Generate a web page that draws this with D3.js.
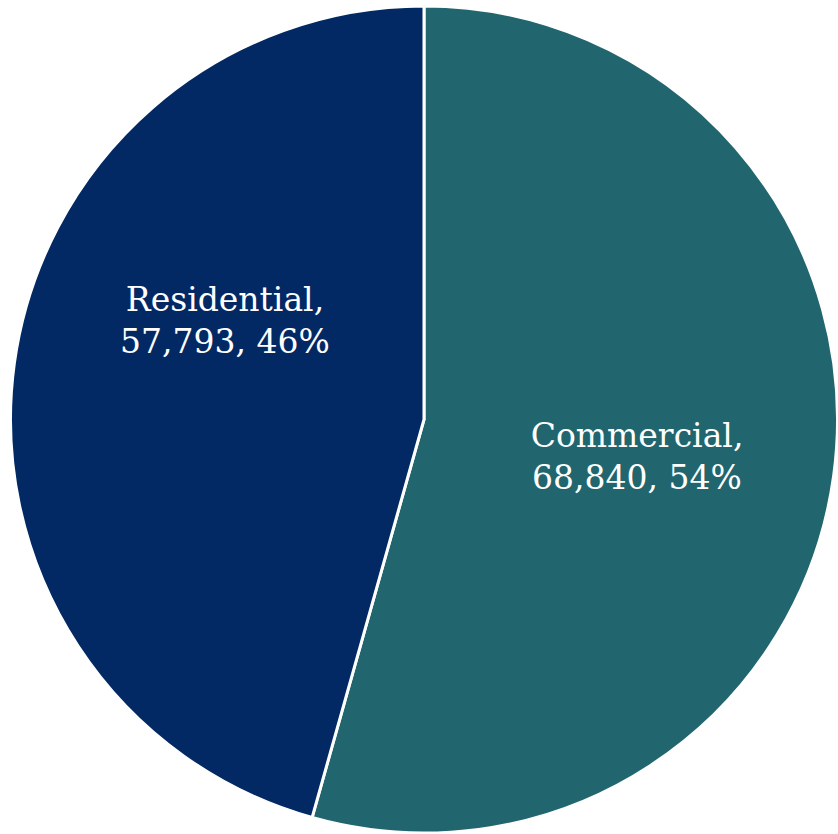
<!DOCTYPE html>
<html>
<head>
<meta charset="utf-8">
<script src="https://cdn.jsdelivr.net/npm/d3@7"></script>
<style>
  html, body { margin: 0; padding: 0; background: #ffffff; }
  svg { display: block; }
</style>
</head>
<body>
<svg id="chart" width="838" height="834"></svg>
<script>
// Floor area by building type
const categories = ["Commercial", "Residential"];
const values = [68840, 57793];
const percents = ["54%", "46%"];
const colors = ["#21666e", "#022964"];

const width = 838, height = 834;
const cx = 424, cy = 419.5, radius = 413.5;

const svg = d3.select("#chart");
const g = svg.append("g").attr("transform", `translate(${cx},${cy})`);

const data = categories.map((c, i) => ({ name: c, value: values[i], pct: percents[i], color: colors[i] }));

const pie = d3.pie().value(d => d.value).sort(null);
const arcs = pie(data);

const arc = d3.arc().innerRadius(0).outerRadius(radius);

g.selectAll("path.slice")
  .data(arcs)
  .join("path")
  .attr("class", "slice")
  .attr("d", arc)
  .attr("fill", d => d.data.color)
  .attr("stroke", "#ffffff")
  .attr("stroke-width", 3)
  .attr("stroke-linejoin", "miter");

// Label anchor: centroid of an inner ring, nudged to sit in the open part of each slice
const labelArc = d3.arc().innerRadius(radius * 0.52).outerRadius(radius * 0.52);
const nudge = { "Commercial": [0, 8], "Residential": [14, -69] };
const fmt = d3.format(",");
const lineGap = 42;

const labels = g.selectAll("text.label")
  .data(arcs)
  .join("text")
  .attr("class", "label")
  .attr("text-anchor", "middle")
  .attr("fill", "#ffffff")
  .style("font-family", "'DejaVu Serif', Georgia, serif")
  .style("font-size", "33px")
  .attr("transform", d => {
    const [x, y] = labelArc.centroid(d);
    const [nx, ny] = nudge[d.data.name];
    return `translate(${x + nx},${y + ny})`;
  });

labels.append("tspan")
  .attr("x", 0)
  .attr("y", -lineGap / 2 + 11)
  .text(d => d.data.name + ",");

labels.append("tspan")
  .attr("x", 0)
  .attr("y", lineGap / 2 + 11)
  .text(d => fmt(d.data.value) + ", " + d.data.pct);
</script>
</body>
</html>
